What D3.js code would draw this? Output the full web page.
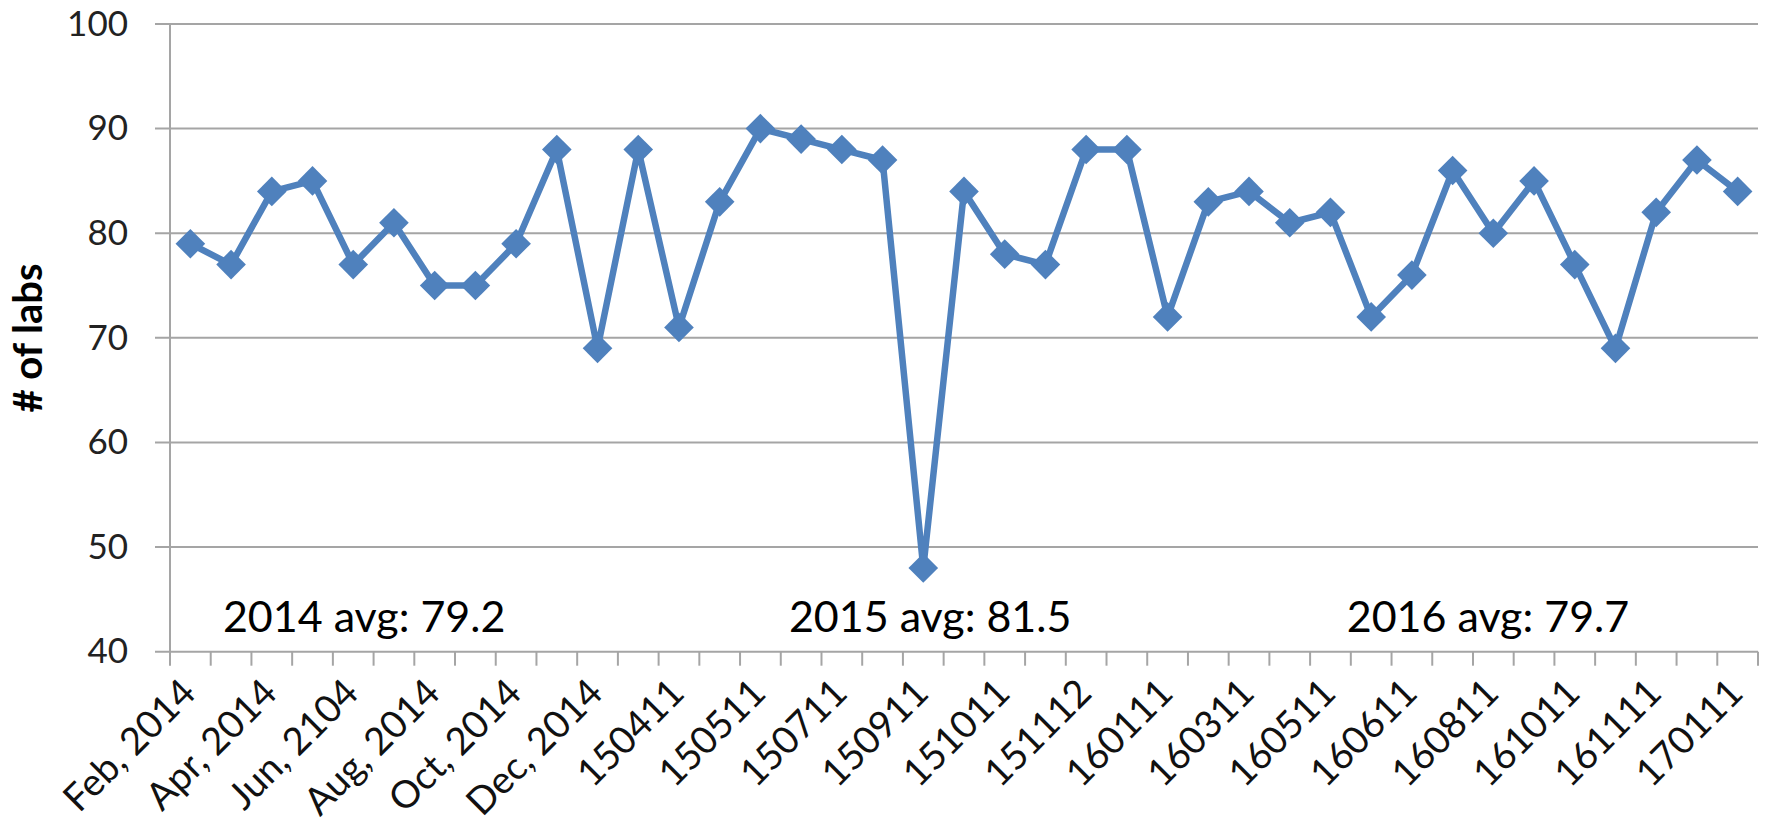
<!DOCTYPE html>
<html>
<head>
<meta charset="utf-8">
<script src="https://cdn.jsdelivr.net/npm/d3@7"></script>
<style>
    html, body { margin: 0; padding: 0; background: #fff; }
    svg { display: block; }
    text { font-family: Lato, "Open Sans", sans-serif; }
</style>
</head>
<body>
<svg id="chart"></svg>
<script>
// Monthly lab counts, one per category (only every other category is labelled)
const labCounts = [79, 77, 84, 85, 77, 81, 75, 75, 79, 88, 69,
    88, 71, 83, 90, 89, 88, 87, 48, 84, 78, 77, 88,
    88, 72, 83, 84, 81, 82, 72, 76, 86, 80, 85, 77, 69, 82, 87, 84];

// Labels shown on the x axis, at categories 0, 2, 4, ...
const tickLabels = ['Feb, 2014', 'Apr, 2014', 'Jun, 2104', 'Aug, 2014', 'Oct, 2014', 'Dec, 2014',
    '150411', '150511', '150711', '150911', '151011', '151112', '160111', '160311',
    '160511', '160611', '160811', '161011', '161111', '170111'];

const yTicks = [40, 50, 60, 70, 80, 90, 100];

// Yearly averages written inside the plot
const yearNotes = ['2014 avg: 79.2', '2015 avg: 81.5', '2016 avg: 79.7'];
const noteCategory = [1.3, 15.2, 28.9];

const width = 1769, height = 830;
const plotLeft = 170, plotRight = 1758, plotTop = 24, plotBottom = 651.7;

const svg = d3.select('#chart')
    .attr('width', width)
    .attr('height', height);

const categories = d3.range(labCounts.length);

const x = d3.scaleBand()
    .domain(categories)
    .range([plotLeft, plotRight])
    .padding(0);

const y = d3.scaleLinear()
    .domain([40, 100])
    .range([plotBottom, plotTop]);

const cx = i => x(i) + x.bandwidth() / 2;

// Horizontal gridlines (they poke out left of the axis as tick marks)
svg.append('g')
    .selectAll('line')
    .data(yTicks)
    .enter()
    .append('line')
    .attr('x1', plotLeft - 15)
    .attr('x2', plotRight)
    .attr('y1', d => y(d))
    .attr('y2', d => y(d))
    .attr('stroke', '#a5a5a5')
    .attr('stroke-width', 2);

// Y axis line
svg.append('line')
    .attr('x1', plotLeft).attr('x2', plotLeft)
    .attr('y1', y(100)).attr('y2', y(40))
    .attr('stroke', '#a5a5a5')
    .attr('stroke-width', 2);

// Y axis labels
const yAxis = svg.append('g')
    .attr('transform', `translate(${plotLeft},0)`)
    .call(d3.axisLeft(y).tickValues(yTicks).tickSize(0).tickPadding(42));
yAxis.select('.domain').remove();
yAxis.selectAll('text')
    .attr('font-size', 35)
    .attr('fill', '#222')
    .style('font-family', 'Lato, sans-serif');

// X axis tick marks sit between categories
const boundaries = d3.range(labCounts.length + 1);
svg.append('g')
    .selectAll('line')
    .data(boundaries)
    .enter()
    .append('line')
    .attr('x1', d => d < labCounts.length ? x(d) : plotRight)
    .attr('x2', d => d < labCounts.length ? x(d) : plotRight)
    .attr('y1', plotBottom)
    .attr('y2', plotBottom + 14)
    .attr('stroke', '#a5a5a5')
    .attr('stroke-width', 2);

// X labels, rotated
svg.append('g')
    .selectAll('text')
    .data(tickLabels)
    .enter()
    .append('text')
    .attr('transform', (d, i) => `translate(${cx(i * 2) - 2},${plotBottom + 34}) rotate(-45)`)
    .attr('text-anchor', 'end')
    .attr('dy', '0.35em')
    .attr('font-size', 38)
    .attr('fill', '#111')
    .text(d => d);

// Y axis title
svg.append('text')
    .attr('transform', 'translate(42,338) rotate(-90)')
    .attr('text-anchor', 'middle')
    .attr('font-size', 40)
    .attr('font-weight', 'bold')
    .attr('fill', '#000')
    .text('# of labs');

// Average notes
svg.append('g')
    .selectAll('text')
    .data(yearNotes)
    .enter()
    .append('text')
    .attr('x', (d, i) => x(0) + noteCategory[i] * x.bandwidth())
    .attr('y', 632)
    .attr('font-size', 43)
    .attr('fill', '#000')
    .text(d => d);

// The series line
const line = d3.line()
    .x((d, i) => cx(i))
    .y(d => y(d));

svg.append('path')
    .datum(labCounts)
    .attr('fill', 'none')
    .attr('stroke', '#4f81bd')
    .attr('stroke-width', 6.5)
    .attr('stroke-linejoin', 'round')
    .attr('d', line);

// Diamond markers
const diamond = d3.symbol().type(d3.symbolDiamond2).size(560);
svg.append('g')
    .selectAll('path')
    .data(labCounts)
    .enter()
    .append('path')
    .attr('transform', (d, i) => `translate(${cx(i)},${y(d)})`)
    .attr('d', diamond)
    .attr('fill', '#4f81bd');
</script>
</body>
</html>
